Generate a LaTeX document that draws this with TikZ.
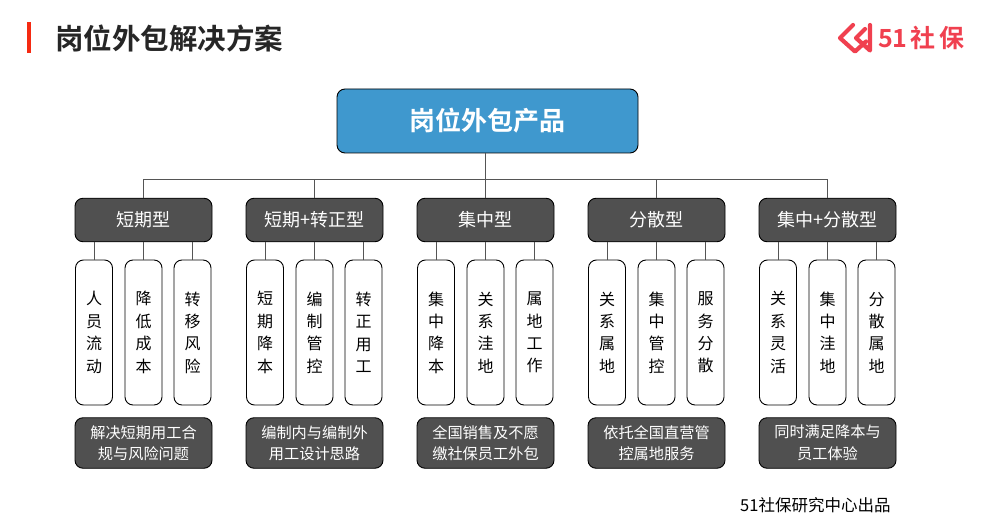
\documentclass[tikz,border=0pt]{standalone}
\usepackage{fontspec}
\setmainfont{Noto Sans CJK SC}
\newfontfamily\cjkbold{Noto Sans CJK SC Bold}
\definecolor{darkbox}{HTML}{505050}
\definecolor{topblue}{HTML}{3F98CE}
\definecolor{linegray}{HTML}{555555}
\definecolor{logored}{HTML}{F0404F}
\definecolor{barred}{HTML}{F52A12}
\definecolor{titleink}{HTML}{262626}
\tikzset{
  x=1pt,y=-1pt,
  catbox/.style={draw=black,line width=0.9pt,rounded corners=8pt,fill=darkbox,text=white,minimum width=137pt,minimum height=43.5pt,inner sep=0pt,font=\fontsize{18}{20}\selectfont},
  itembox/.style={draw=black,line width=0.9pt,rounded corners=8pt,fill=white,text=black,minimum width=37pt,minimum height=145pt,inner sep=0pt,align=center,font=\fontsize{16}{22.4}\selectfont},
  descbox/.style={draw=black,line width=0.9pt,rounded corners=8pt,fill=darkbox,text=white,minimum width=137pt,minimum height=50.5pt,inner sep=0pt,align=center,font=\fontsize{15.2}{21.5}\selectfont},
  conn/.style={draw=linegray,line width=0.9pt},
}
\begin{document}
\begin{tikzpicture}
\useasboundingbox (0,0) rectangle (981,521);
\fill[barred] (27,22) rectangle (31,53.5);
\node[anchor=west,inner sep=0pt,text=titleink,font=\cjkbold\fontsize{28.5}{30}\selectfont] (title) at (55,39) {岗位外包解决方案};
% logo
\draw[logored,line width=4.2pt,line join=round,line cap=round] (853,25) -- (840,38) -- (855,51.5) -- (866,41.5);
\draw[logored,line width=4.2pt,line join=round,line cap=round] (870,25) -- (870,50.5) -- (856,38) -- (865,29);
\node[anchor=west,inner sep=0pt,text=logored,font=\cjkbold\fontsize{25}{28}\selectfont] (logo) at (878,38) {51\hspace{3pt}社\hspace{4pt}保};
% top
\node[draw=black,line width=0.9pt,rounded corners=8pt,fill=topblue,text=white,minimum width=301pt,minimum height=64pt,inner sep=0pt,font=\cjkbold\fontsize{26}{30}\selectfont] (root) at (487.5,121) {岗位外包产品};
\coordinate (bus) at (485.5,179);
% categories
\node[catbox] (c1) at (143.5,220) {短期型};
\node[catbox] (c2) at (314.5,220) {短期+转正型};
\node[catbox] (c3) at (485.5,220) {集中型};
\node[catbox] (c4) at (656.5,220) {分散型};
\node[catbox] (c5) at (827.5,220) {集中+分散型};
% items
\foreach \n/\cx/\ta/\tb/\tc in {
  1/143.5/人\\员\\流\\动/降\\低\\成\\本/转\\移\\风\\险,
  2/314.5/短\\期\\降\\本/编\\制\\管\\控/转\\正\\用\\工,
  3/485.5/集\\中\\降\\本/关\\系\\洼\\地/属\\地\\工\\作,
  4/656.5/关\\系\\属\\地/集\\中\\管\\控/服\\务\\分\\散,
  5/827.5/关\\系\\灵\\活/集\\中\\洼\\地/分\\散\\属\\地}
{
  \node[itembox] (i\n a) at (\cx-49.5,332.5) {\ta};
  \node[itembox] (i\n b) at (\cx,332.5) {\tb};
  \node[itembox] (i\n c) at (\cx+49,332.5) {\tc};
  \draw[conn] (c\n.south -| i\n a.north) -- (i\n a.north);
  \draw[conn] (c\n.south -| i\n b.north) -- (i\n b.north);
  \draw[conn] (c\n.south -| i\n c.north) -- (i\n c.north);
  \draw[conn] (c\n.north) -- (c\n.north |- bus);
}
\draw[conn] (root.south -| bus) -- (bus);
\draw[conn] (c1.north |- bus) -- (c5.north |- bus);
% descriptions
\node[descbox] (d1) at (143.5,443) {解决短期用工合\\规与风险问题};
\node[descbox] (d2) at (314.5,443) {编制内与编制外\\用工设计思路};
\node[descbox] (d3) at (485.5,443) {全国销售及不愿\\缴社保员工外包};
\node[descbox] (d4) at (656.5,443) {依托全国直营管\\控属地服务};
\node[descbox] (d5) at (827.5,443) {同时满足降本与\\员工体验};
\node[anchor=west,inner sep=0pt,text=black,font=\fontsize{16.5}{18}\selectfont] (src) at (740,505) {51社保研究中心出品};
\end{tikzpicture}
\end{document}
